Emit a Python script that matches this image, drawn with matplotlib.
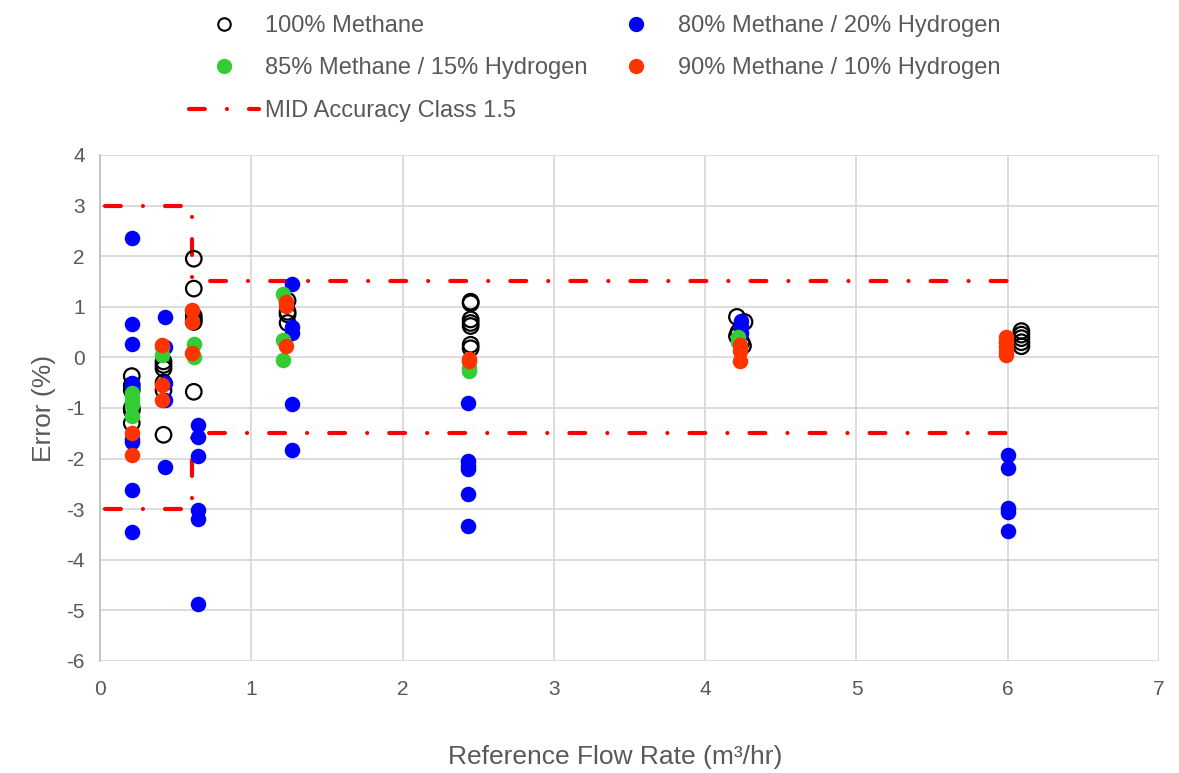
import matplotlib
matplotlib.use("Agg")
import matplotlib.pyplot as plt
from matplotlib.lines import Line2D

plt.rcParams["font.family"] = ["Liberation Sans", "DejaVu Sans"]
plt.rcParams["axes.unicode_minus"] = False

GREY_TEXT = "#595959"
GRID = "#D9D9D9"

# ================= DATA =================
# 100% methane (open circles)
m100_x = [0.21] * 6 + [0.42] * 6 + [0.62] * 6 + [1.24] * 4 + [2.45] * 7 \
    + [4.21, 4.26, 4.22, 4.21, 4.24, 4.25] + [6.09] * 5
m100_y = [-0.37, -0.55, -0.65, -1.0, -1.05, -1.3,
          -0.08, -0.15, -0.22, -0.5, -0.65, -1.53,
          1.95, 1.36, 0.82, 0.75, 0.70, -0.68,
          1.12, 0.9, 0.85, 0.68,
          1.10, 1.07, 0.75, 0.68, 0.62, 0.25, 0.18,
          0.8, 0.7, 0.5, 0.42, 0.3, 0.23,
          0.52, 0.45, 0.38, 0.3, 0.22]

# 80% methane / 20% hydrogen
h20_x = [0.21] * 9 + [0.43] * 5 + [0.65] * 6 + [1.27] * 5 + [2.43] * 6 \
    + [4.24] * 3 + [6.0] * 5
h20_y = [2.35, 0.65, 0.26, -0.5, -0.58, -1.62, -1.68, -2.63, -3.45,
         0.8, 0.2, -0.5, -0.85, -2.17,
         -1.34, -1.58, -1.95, -3.02, -3.2, -4.88,
         1.45, 0.6, 0.48, -0.93, -1.83,
         -0.9, -2.05, -2.15, -2.2, -2.7, -3.33,
         0.72, 0.6, 0.48,
         -1.93, -2.18, -2.98, -3.05, -3.43]

# 85% methane / 15% hydrogen
h15_x = [0.21] * 5 + [0.41] * 2 + [0.62] * 2 + [1.21] * 3 + [2.44] * 2 \
    + [4.22] * 2 + [5.99]
h15_y = [-0.7, -0.78, -0.88, -0.95, -1.15,
         0.2, 0.05,
         0.27, 0.0,
         1.25, 0.35, -0.05,
         -0.27, -0.2,
         0.4, 0.3,
         0.3]

# 90% methane / 10% hydrogen
h10_x = [0.21] * 2 + [0.41] * 3 + [0.61] * 3 + [1.23] * 3 + [2.44] * 2 \
    + [4.23] * 3 + [5.99] * 5
h10_y = [-1.5, -1.92,
         0.25, -0.55, -0.85,
         0.93, 0.70, 0.08,
         1.1, 1.02, 0.23,
         -0.03, -0.08,
         0.25, 0.12, -0.07,
         0.4, 0.3, 0.2, 0.1, 0.05]

# MID accuracy class 1.5 envelope
mid_x = [0.03, 0.61, 0.61, 6.0]
mid_upper = [3.0, 3.0, 1.5, 1.5]
mid_lower = [-3.0, -3.0, -1.5, -1.5]

# ================= FIGURE =================
fig = plt.figure(figsize=(11.79, 7.73), dpi=100)
ax = fig.add_axes([0.0848, 0.1449, 0.8983, 0.6546])

mid_style = dict(color="#FF0000", linewidth=3,
                 linestyle=(0, (3.8, 5.3, 0.01, 5.3)),
                 dash_capstyle="round", zorder=2)
ax.plot(mid_x, mid_upper, **mid_style)
ax.plot(mid_x, mid_lower, **mid_style)

ms = 125
ax.scatter(m100_x, m100_y, s=ms, facecolors="none", edgecolors="black",
           linewidths=1.6, zorder=3)
ax.scatter(h20_x, h20_y, s=ms, color="#0000FF", linewidths=0, zorder=4)
ax.scatter(h15_x, h15_y, s=ms, color="#33CC33", linewidths=0, zorder=5)
ax.scatter(h10_x, h10_y, s=ms, color="#FF3300", linewidths=0, zorder=6)

ax.set_xlim(0, 7)
ax.set_ylim(-6, 4)
ax.set_xticks(range(0, 8))
ax.set_yticks(range(-6, 5))
ax.grid(True, color=GRID, linewidth=1.3)
ax.set_axisbelow(True)
for side in ["top", "right", "bottom"]:
    ax.spines[side].set_visible(False)
ax.spines["left"].set_color("#BFBFBF")
ax.spines["left"].set_linewidth(1.3)

ax.tick_params(axis="both", length=0, labelsize=15, labelcolor=GREY_TEXT)
ax.tick_params(axis="x", pad=14)
ax.tick_params(axis="y", pad=11)

ax.set_xlabel("Reference Flow Rate (m³/hr)", fontsize=19, color=GREY_TEXT)
ax.xaxis.set_label_coords(0.486, -0.166)
ax.set_ylabel("Error (%)", fontsize=19, color=GREY_TEXT, labelpad=7)

# ================= LEGEND =================
handles = [
    Line2D([], [], marker="o", linestyle="none", markersize=9,
           markerfacecolor="none", markeredgecolor="black", markeredgewidth=1.5),
    Line2D([], [], marker="o", linestyle="none", markersize=10,
           color="#33CC33"),
    Line2D([], [], **mid_style),
    Line2D([], [], marker="o", linestyle="none", markersize=10,
           color="#0000FF"),
    Line2D([], [], marker="o", linestyle="none", markersize=10,
           color="#FF3300"),
]
labels = ["100% Methane", "85% Methane / 15% Hydrogen",
          "MID Accuracy Class 1.5", "80% Methane / 20% Hydrogen",
          "90% Methane / 10% Hydrogen"]
leg = fig.legend(handles, labels, ncol=2, loc="upper left",
                 bbox_to_anchor=(0.150, 0.996), frameon=False, fontsize=17,
                 borderpad=0, handlelength=3.0, handletextpad=0.25,
                 labelspacing=0.87, columnspacing=0.55)
for t in leg.get_texts():
    t.set_color(GREY_TEXT)

fig.savefig("out.png", dpi=100)
